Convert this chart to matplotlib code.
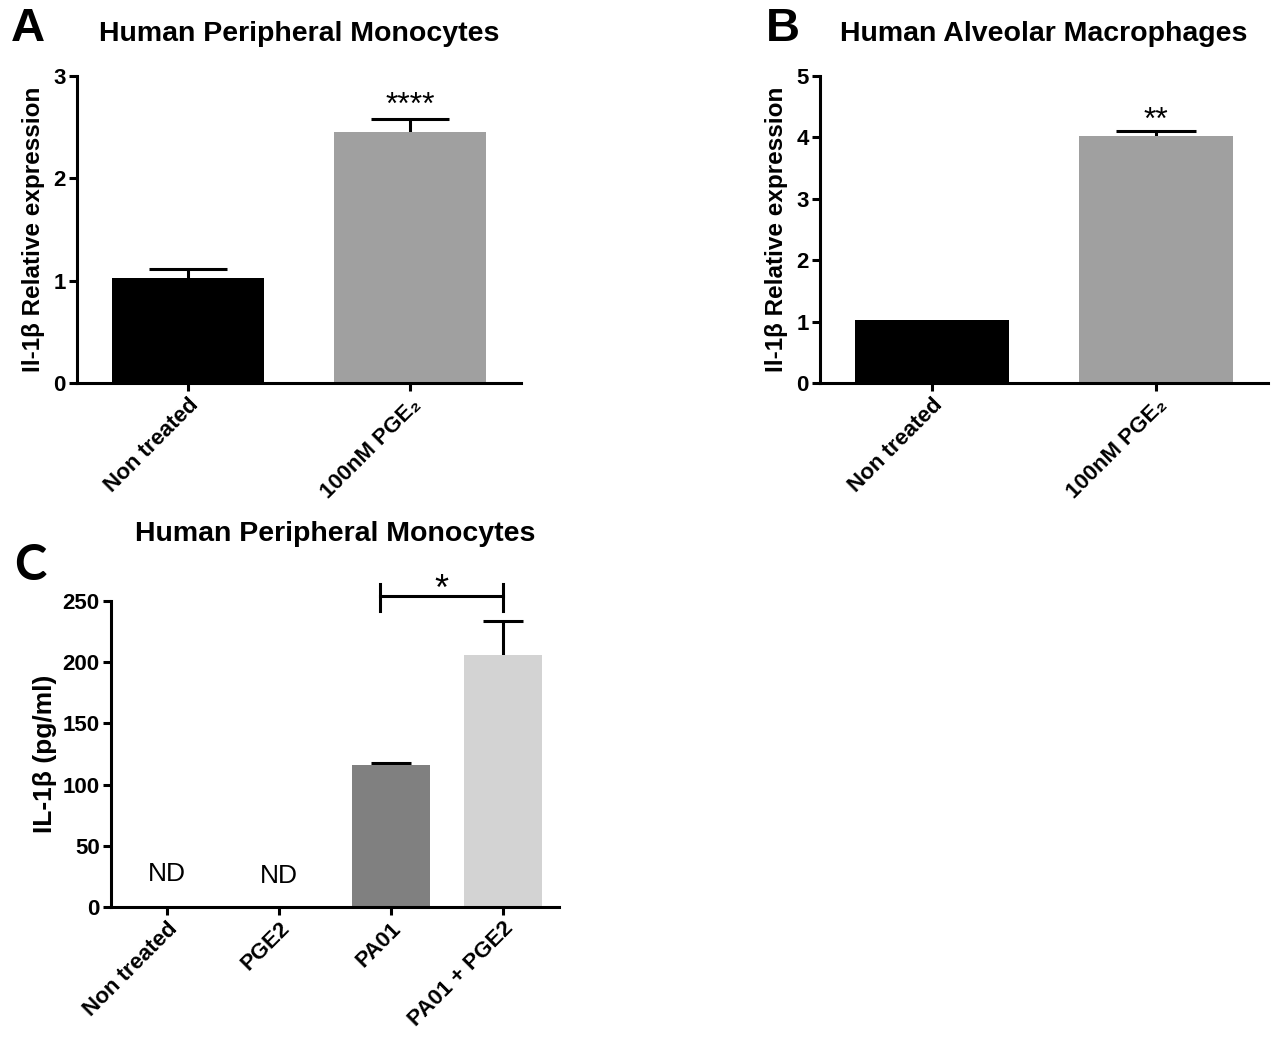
import matplotlib.pyplot as plt
import numpy as np

plt.rcParams['font.family'] = ['Liberation Sans', 'DejaVu Sans']

# panel A: human peripheral monocytes, relative expression
a_labels = ["Non treated", "100nM PGE\u2082"]
a_values = [1.03, 2.45]
a_errors = [0.08, 0.13]
a_colors = ["#000000", "#a0a0a0"]

# panel B: human alveolar macrophages, relative expression
b_labels = ["Non treated", "100nM PGE\u2082"]
b_values = [1.02, 4.02]
b_errors = [0.0, 0.08]
b_colors = ["#000000", "#a0a0a0"]

# panel C: IL-1b secretion (pg/ml)
c_labels = ["Non treated", "PGE2", "PA01", "PA01 + PGE2"]
c_values = [0, 0, 116, 206]
c_errors = [0, 0, 2, 28]
c_colors = ["#000000", "#000000", "#808080", "#d3d3d3"]
c_nd = [True, True, False, False]

LW = 2.2


def style_axes(ax, ymax, step):
    for s in ["top", "right"]:
        ax.spines[s].set_visible(False)
    ax.spines["left"].set_linewidth(LW)
    ax.spines["bottom"].set_linewidth(LW)
    ax.set_ylim(0, ymax)
    ax.set_yticks(np.arange(0, ymax + step / 2, step))
    ax.tick_params(width=LW, length=6, labelsize=16, pad=2)
    for lab in ax.get_yticklabels():
        lab.set_fontweight("bold")


def bar_panel(ax, labels, values, errors, colors, capsize, width):
    x = np.arange(len(labels))
    ax.bar(x, values, width=width, color=colors, zorder=2)
    # symmetric bars drawn behind the bars, so only the upper half shows
    errs = np.array(errors)
    keep = errs > 0
    ax.errorbar(x[keep], np.array(values)[keep], yerr=errs[keep], fmt="none",
                ecolor="black", elinewidth=LW, capsize=capsize, capthick=LW,
                zorder=1)
    ax.set_xlim(-0.5, len(labels) - 0.5)
    ax.set_xticks(x)
    ax.set_xticklabels(labels, rotation=45, ha="right", va="top",
                       rotation_mode="anchor", fontsize=16, fontweight="bold")
    return x


fig = plt.figure(figsize=(12.77, 10.42), dpi=100)

# A
axA = fig.add_axes([0.0603, 0.6324, 0.3477, 0.2946])
xa = bar_panel(axA, a_labels, a_values, a_errors, a_colors, 28, 0.685)
style_axes(axA, 3, 1)
axA.set_ylabel("Il-1\u03b2 Relative expression", fontsize=17.5,
               fontweight="bold", labelpad=6)
axA.set_title("Human Peripheral Monocytes", fontsize=20.5,
              fontweight="bold", pad=25)
axA.text(xa[1], a_values[1] + a_errors[1] - 0.02, "****", ha="center",
         va="bottom", fontsize=23)
fig.text(0.022, 0.972, "A", fontsize=34, fontweight="bold",
         ha="center", va="center")

# B
axB = fig.add_axes([0.642, 0.6324, 0.351, 0.2946])
xb = bar_panel(axB, b_labels, b_values, b_errors, b_colors, 29, 0.685)
style_axes(axB, 5, 1)
axB.set_ylabel("Il-1\u03b2 Relative expression", fontsize=17.5,
               fontweight="bold", labelpad=6)
axB.set_title("Human Alveolar Macrophages", fontsize=20.5,
              fontweight="bold", pad=25)
axB.text(xb[1], b_values[1] + b_errors[1] - 0.07, "**", ha="center",
         va="bottom", fontsize=23)
fig.text(0.613, 0.972, "B", fontsize=34, fontweight="bold",
         ha="center", va="center")

# C
axC = fig.add_axes([0.0869, 0.1296, 0.3508, 0.2937])
xc = bar_panel(axC, c_labels, c_values, c_errors, c_colors, 14.4, 0.70)
style_axes(axC, 250, 50)
axC.set_ylabel("IL-1\u03b2 (pg/ml)", fontsize=19, fontweight="bold",
               labelpad=4)
axC.set_title("Human Peripheral Monocytes", fontsize=20.5,
              fontweight="bold", pad=43)
for i, nd in enumerate(c_nd):
    if nd:
        axC.text(xc[i], 27 - 2 * i, "ND", ha="center", va="center",
                 fontsize=19)
# significance bracket between PA01 and PA01 + PGE2
axC.plot([1.9, 3.0], [254, 254], color="black", lw=LW, clip_on=False)
axC.plot([1.9, 1.9], [242, 264], color="black", lw=LW, clip_on=False)
axC.plot([3.0, 3.0], [242, 264], color="black", lw=LW, clip_on=False)
axC.text(2.45, 244, "*", ha="center", va="bottom", fontsize=26)
fig.text(0.024, 0.457, "C", fontsize=35, fontweight="bold",
         family=["Lato", "DejaVu Sans"], ha="center", va="center")

fig.savefig("out.png", dpi=100)
